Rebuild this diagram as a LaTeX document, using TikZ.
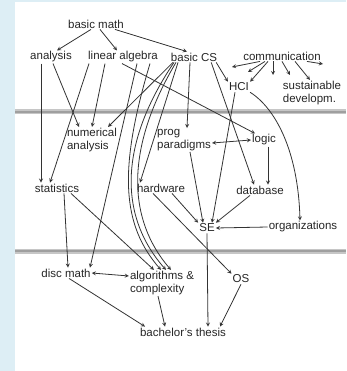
\documentclass[tikz,border=0pt]{standalone}
\usepackage{fontspec}
\setmainfont{Liberation Sans}
\usetikzlibrary{arrows, positioning, calc}
\definecolor{fondbleu}{RGB}{221,238,245}
\tikzset{
  sujet/.style={font=\fontsize{11.5}{13}\selectfont, inner sep=1pt, align=left, text=black!85},
  lien/.style={draw=black!80, line width=0.8pt, ->},
  lien2/.style={draw=black!80, line width=0.8pt, <->}
}

\begin{document}
\begin{tikzpicture}[x=1pt, y=-1pt, >=stealth]
  % Fond
  \fill[fondbleu] (0,0) rectangle (346,371);
  \fill[white] (15,2) rectangle (346,371);
  \useasboundingbox (0,0) rectangle (346,371);

  % Bandes grises
  \draw[gray!45, line width=5pt] (15,112) -- (346,112);
  \draw[gray!75, line width=2pt] (15,112) -- (346,112);
  \draw[gray!45, line width=5pt] (15,251) -- (346,251);
  \draw[gray!75, line width=2pt] (15,251) -- (346,251);

  % Sujets
  \node[sujet] (bmath) at (96,24) {basic math};
  \node[sujet] (ana) at (51,57) {analysis};
  \node[sujet] (linalg) at (123,57) {linear algebra};
  \node[sujet] (bcs) at (194,57) {basic CS};
  \node[sujet] (comm) at (282,56) {communication};
  \node[sujet] (hci) at (239,87) {HCI};
  \node[sujet] (sust) at (312,93) {sustainable\\developm.};
  \node[sujet] (numan) at (92,140) {numerical\\analysis};
  \node[sujet] (prog) at (184,140) {prog\\paradigms};
  \node[sujet] (logic) at (264,140) {logic};
  \node[sujet] (stat) at (57,188) {statistics};
  \node[sujet] (hw) at (161,188) {hardware};
  \node[sujet] (db) at (260,190) {database};
  \node[sujet] (se) at (207,228) {SE};
  \node[sujet] (org) at (303,227) {organizations};
  \node[sujet] (disc) at (66,273) {disc math};
  \node[sujet] (algo) at (162,283) {algorithms \&\\complexity};
  \node[sujet] (os) at (241,279) {OS};
  \node[sujet] (thesis) at (183,332) {bachelor's thesis};

  % Fleches libres de communication
  \coordinate (commA) at (232,67);
  \coordinate (commB) at (248,72);
  \coordinate (commC) at (273,75);
  \coordinate (commD) at (290,75);
  \coordinate (commE) at (323,64);

  % Liens
  \draw[lien] ([xshift=-5]bmath.south) -- ([xshift=6]ana.north);
  \draw[lien] ([xshift=4]bmath.south) -- ([xshift=-6]linalg.north);
  \draw[lien] ([xshift=19]bmath.south) -- ([xshift=-7]bcs.north);

  \draw[lien] ([xshift=-10]ana.south) -- ([xshift=-16]stat.north);
  \draw[lien] ([xshift=2]ana.south) -- ([xshift=-13]numan.north);

  \draw[lien] ([xshift=-34]linalg.south) -- ([xshift=-7]stat.north);
  \draw[lien] ([xshift=-18]linalg.south) -- (numan.north);
  \draw[lien] ([xshift=-1]linalg.south) -- ([xshift=-9]logic.north);
  \draw[lien] ([xshift=14]linalg.south) -- ([xshift=24]disc.north);
  \draw[lien] ([xshift=27]linalg.south) .. controls (118,170) and (122,225) .. ([xshift=-1]algo.north);

  \draw[lien] ([xshift=-21]bcs.south) -- ([xshift=16]numan.north);
  \draw[lien] ([xshift=-20]bcs.south) .. controls (115,150) and (122,220) .. ([xshift=4]algo.north);
  \draw[lien] ([xshift=-18]bcs.south) .. controls (124,150) and (128,220) .. ([xshift=9]algo.north);
  \draw[lien] ([xshift=-16]bcs.south) -- ([xshift=-21]hw.north);
  \draw[lien] ([xshift=-4]bcs.south) -- ([xshift=3]prog.north);
  \draw[lien] ([xshift=-7]bcs.south east) -- ([xshift=-6]db.north);
  \draw[lien] ([xshift=-2]bcs.south east) -- (hci.north west);

  \draw[lien] ([xshift=-22]comm.south) -- (commA);
  \draw[lien] ([xshift=-17]comm.south) -- (commB);
  \draw[lien] ([xshift=-14]comm.south) -- (hci.north east);
  \draw[lien] ([xshift=-9]comm.south) -- (commC);
  \draw[lien] ([xshift=0]comm.south) -- (commD);
  \draw[lien] ([xshift=13]comm.south) -- ([xshift=-2]sust.north);
  \draw[lien] ([xshift=25]comm.south) -- (commE);

  \draw[lien] ([xshift=-4]hci.south) -- ([xshift=5]se.north);
  \draw[lien] (hci.south east) .. controls (275,108) and (298,150) .. ([xshift=-3]org.north);

  \draw[lien2] ([yshift=-3]prog.east) -- (logic.west);
  \draw[lien] ([xshift=4]logic.south) -- ([xshift=8]db.north);
  \draw[lien] ([xshift=6]prog.south) -- ([xshift=-4]se.north);
  \draw[lien] ([xshift=11]hw.south) -- (se.north west);
  \draw[lien] ([xshift=-8]hw.south) -- (os.north west);
  \draw[lien] ([xshift=-10]db.south) -- (se.north east);
  \draw[lien] (org.west) -- (se.east);

  \draw[lien] ([xshift=7]stat.south) -- ([xshift=2]disc.north);
  \draw[lien] ([xshift=14]stat.south) -- ([xshift=-8]algo.north);
  \draw[lien2] (disc.east) -- ([yshift=7]algo.west);

  \draw[lien] ([xshift=3]disc.south) -- ([xshift=-38]thesis.north);
  \draw[lien] ([xshift=-4]algo.south) -- ([xshift=-18]thesis.north);
  \draw[lien] (se.south) -- ([xshift=25]thesis.north);
  \draw[lien] (os.south) -- ([xshift=37]thesis.north);
\end{tikzpicture}
\end{document}
